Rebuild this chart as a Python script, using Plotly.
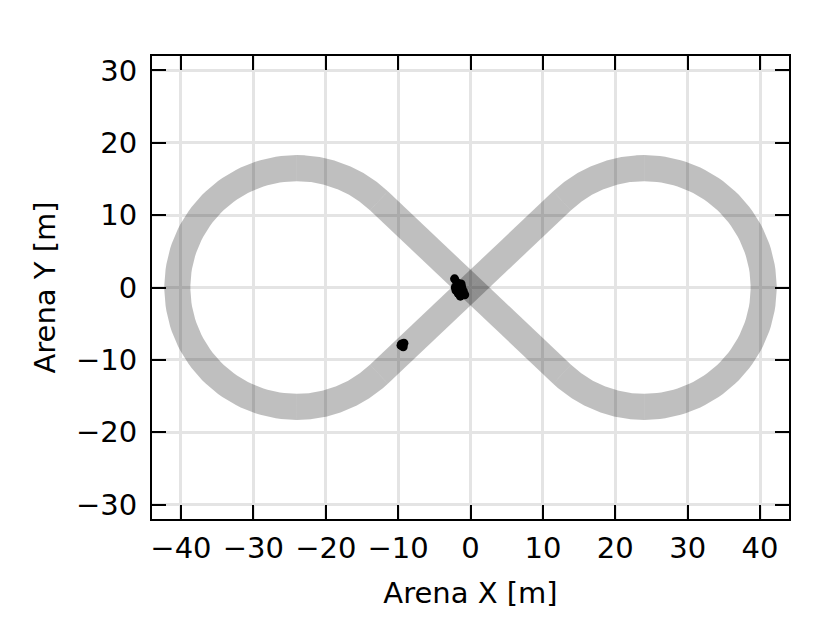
import numpy as np
import plotly.graph_objects as go

# ---- Track geometry (figure-eight arena) ----
LOOP_CENTER_X = 24.0      # m, centres of the two loops at (+/-24, 0)
TRACK_RADIUS = 16.5       # m, centreline radius of each loop
TRACK_WIDTH = 3.6         # m

# ---- Observed positions (black dots) ----
pos_x = [-1.8, -1.5, -2.0, -1.3, -1.7, -1.1, -0.8, -2.2, -1.9, -1.4, -2.1, -1.0,
         -1.6, -1.2, -9.5, -9.3, -9.6, -9.2]
pos_y = [0.2, -0.1, -0.4, 0.5, -0.8, -0.9, -1.0, 1.2, 0.7, -1.2, 0.0, -0.5,
         0.3, 0.0, -7.8, -8.2, -8.0, -7.7]

# ---- Axes ----
x_ticks = [-40, -30, -20, -10, 0, 10, 20, 30, 40]
y_ticks = [-30, -20, -10, 0, 10, 20, 30]
x_range = [-44, 44]
y_range = [-32, 32]

FONT = "DejaVu Sans"
TRACK_FILL = "rgba(0,0,0,0.25)"


def arc_polygon(cx, cy, r, w, a0, a1, n=80):
    t = np.radians(np.linspace(a0, a1, n))
    ro, ri = r + w / 2, r - w / 2
    xo, yo = cx + ro * np.cos(t), cy + ro * np.sin(t)
    xi, yi = cx + ri * np.cos(t[::-1]), cy + ri * np.sin(t[::-1])
    return np.concatenate([xo, xi, xo[:1]]), np.concatenate([yo, yi, yo[:1]])


def strip_polygon(p0, p1, w):
    p0, p1 = np.asarray(p0), np.asarray(p1)
    d = (p1 - p0) / np.linalg.norm(p1 - p0)
    nrm = np.array([-d[1], d[0]]) * w / 2
    pts = [p0 + nrm, p1 + nrm, p1 - nrm, p0 - nrm, p0 + nrm]
    return [p[0] for p in pts], [p[1] for p in pts]


alpha = np.degrees(np.arcsin(TRACK_RADIUS / LOOP_CENTER_X))
tl = np.sqrt(LOOP_CENTER_X ** 2 - TRACK_RADIUS ** 2)
tp = (tl * np.cos(np.radians(alpha)), tl * np.sin(np.radians(alpha)))

segments = []
# left loop
segments.append(arc_polygon(-LOOP_CENTER_X, 0, TRACK_RADIUS, TRACK_WIDTH, 90 - alpha, 90))
segments.append(arc_polygon(-LOOP_CENTER_X, 0, TRACK_RADIUS, TRACK_WIDTH, 90, 270))
segments.append(arc_polygon(-LOOP_CENTER_X, 0, TRACK_RADIUS, TRACK_WIDTH, 270, 270 + alpha))
# right loop
segments.append(arc_polygon(LOOP_CENTER_X, 0, TRACK_RADIUS, TRACK_WIDTH, 90 + alpha, 90))
segments.append(arc_polygon(LOOP_CENTER_X, 0, TRACK_RADIUS, TRACK_WIDTH, 90, -90))
segments.append(arc_polygon(LOOP_CENTER_X, 0, TRACK_RADIUS, TRACK_WIDTH, -90, -90 - alpha))
# diagonals, each split at the origin
segments.append(strip_polygon((-tp[0], tp[1]), (0, 0), TRACK_WIDTH))
segments.append(strip_polygon((0, 0), (tp[0], -tp[1]), TRACK_WIDTH))
segments.append(strip_polygon((-tp[0], -tp[1]), (0, 0), TRACK_WIDTH))
segments.append(strip_polygon((0, 0), (tp[0], tp[1]), TRACK_WIDTH))

fig = go.Figure()
for sx, sy in segments:
    fig.add_trace(go.Scatter(x=list(sx), y=list(sy), mode="lines", fill="toself",
                             fillcolor=TRACK_FILL, line=dict(width=0),
                             hoverinfo="skip", showlegend=False))

fig.add_trace(go.Scatter(x=pos_x, y=pos_y, mode="markers",
                         marker=dict(color="black", size=9, line=dict(width=0)),
                         showlegend=False))

axis_common = dict(
    showgrid=True, gridcolor="#e4e4e4", gridwidth=2.5, zeroline=False,
    showline=True, linecolor="black", linewidth=2, mirror="ticks",
    ticks="inside", ticklen=14, tickwidth=2, tickcolor="black",
    tickfont=dict(family=FONT, size=29, color="black"),
)

fig.update_xaxes(range=x_range, tickvals=x_ticks, ticklabelstandoff=2,
                 title=dict(text="Arena X [m]", font=dict(family=FONT, size=29, color="black"),
                            standoff=19),
                 **axis_common)
fig.update_yaxes(range=y_range, tickvals=y_ticks, ticklabelstandoff=7,
                 title=dict(text="Arena Y [m]", font=dict(family=FONT, size=29, color="black"),
                            standoff=12),
                 **axis_common)

fig.update_layout(
    width=822, height=623,
    margin=dict(l=144, r=41, t=48, b=112),
    plot_bgcolor="white", paper_bgcolor="white",
    font=dict(family=FONT),
)

fig.write_html("out.html")
